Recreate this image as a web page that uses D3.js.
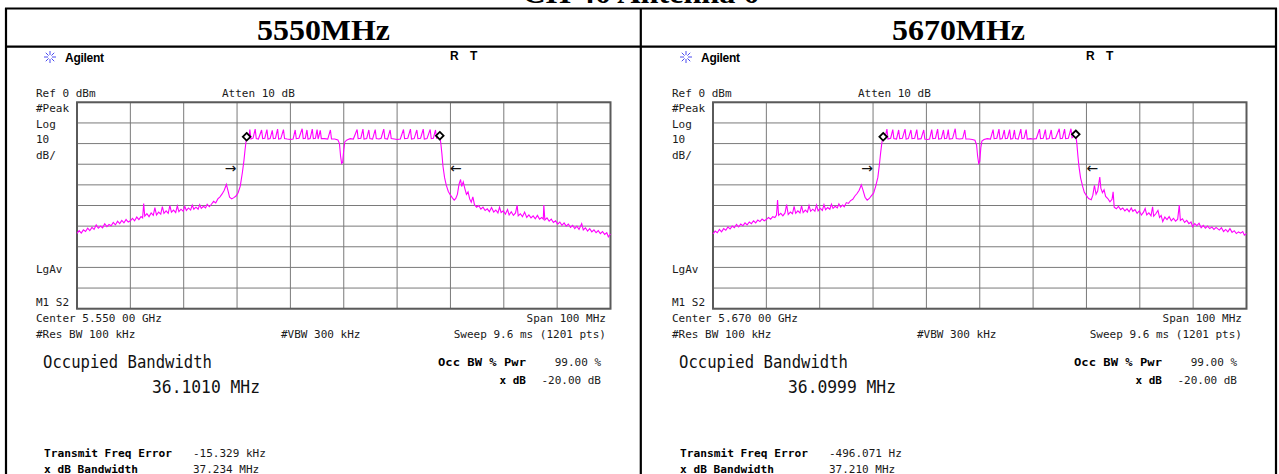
<!doctype html>
<html lang="en">
<head>
<meta charset="utf-8">
<title>Occupied Bandwidth</title>
<script src="https://d3js.org/d3.v7.min.js"></script>
<style>
  body { margin: 0; background: #fff; }
  .inst { font-family: "DejaVu Sans Mono", monospace; font-size: 11px; fill: #1a1a1a; }
  .instb { font-family: "DejaVu Sans Mono", monospace; font-size: 11px; font-weight: bold; fill: #000; }
  .big { font-family: "DejaVu Sans Mono", monospace; font-size: 18px; fill: #111; }
  .title { font-family: "Liberation Serif", serif; font-size: 30px; font-weight: bold; fill: #000; }
  .logo { font-family: "Liberation Sans", sans-serif; font-size: 12px; font-weight: bold; fill: #000; }
</style>
</head>
<body>
<script>
// channel titles
var titles = ["5550MHz", "5670MHz"];
var centers = ["Center 5.550 00 GHz", "Center 5.670 00 GHz"];
var occBw = ["36.1010 MHz", "36.0999 MHz"];
var freqErr = ["-15.329 kHz", "-496.071 Hz"];
var xdbBw = ["37.234 MHz", "37.210 MHz"];

// grid ticks: 0..100 MHz span, 0..-100 dBm (10 dB/div)
var freqTicks = [0, 10, 20, 30, 40, 50, 60, 70, 80, 90, 100];
var levelTicks = [0, -10, -20, -30, -40, -50, -60, -70, -80, -90, -100];

// trace [MHz offset in span, dBm]
var trace5550 = [
[0,-63.5],[0.4,-62.2],[0.8,-63.4],[1.2,-61.8],[1.6,-62.6],[2.0,-61.0],[2.4,-62.2],[2.8,-60.6],[3.2,-61.6],[3.6,-59.4],[4.0,-61.0],[4.4,-60.0],[4.8,-60.8],[5.2,-58.8],[5.6,-60.2],[6.0,-59.2],[6.4,-59.8],[6.8,-58.2],[7.2,-59.4],[7.6,-57.6],[8.0,-58.8],[8.4,-57.2],[8.8,-58.4],[9.2,-56.8],[9.6,-58.0],[10.0,-57.4],
[10.4,-56.2],[10.8,-57.4],[11.2,-55.6],[11.6,-56.8],[12.0,-55.4],[12.3,-56.0],[12.5,-49.0],[12.7,-55.2],[13.1,-54.0],[13.5,-55.4],[13.9,-53.6],[14.3,-54.8],[14.6,-51.0],[14.9,-54.6],[15.3,-53.2],[15.7,-54.2],[16.0,-50.6],[16.3,-53.8],[16.7,-52.6],[17.1,-53.8],[17.4,-50.0],[17.7,-53.2],[18.1,-52.2],[18.5,-53.4],[18.8,-50.2],[19.1,-53.0],[19.5,-51.8],[19.9,-52.8],[20.2,-50.4],
[20.5,-52.4],[20.9,-51.2],[21.3,-52.2],[21.6,-49.8],[21.9,-51.8],[22.3,-50.8],[22.7,-51.8],[23.0,-49.6],[23.3,-51.4],[23.7,-50.4],[24.1,-51.2],[24.4,-49.4],[24.8,-50.6],[25.2,-49.4],[25.6,-48.0],[26.0,-48.8],[26.4,-46.8],[26.8,-45.8],[27.2,-44.4],[27.6,-42.6],[28.0,-39.8],[28.3,-42.8],[28.6,-46.0],[29.0,-46.8],[29.4,-46.2],[29.8,-45.4],[30.2,-43.8],[30.6,-40.6],[31.0,-34.0],[31.3,-28.0],[31.5,-23.0],[31.7,-18.6],[31.9,-17.2],
[32.2,-17.6],[32.4,-13.2],[32.6,-17.8],[33.0,-17.4],[33.4,-13.0],[33.6,-17.6],[34.0,-17.8],[34.6,-13.4],[34.8,-17.6],[35.2,-17.4],[35.6,-13.2],[35.8,-17.8],[36.2,-17.6],[36.6,-13.6],[36.8,-17.6],[37.2,-17.4],[37.6,-13.0],[37.8,-17.8],[38.2,-17.6],[38.7,-13.2],[38.9,-17.6],[39.4,-17.8],[40.0,-18.0],[40.5,-17.8],[40.9,-13.4],[41.1,-17.6],[41.6,-17.4],[42.2,-12.8],[42.4,-17.6],[42.8,-17.4],[43.1,-13.4],[43.3,-17.8],[43.7,-17.6],[44.1,-13.0],[44.3,-17.6],[44.7,-17.4],[45.0,-13.2],[45.2,-17.8],[45.6,-13.6],[45.8,-17.6],[46.4,-17.6],[47.0,-17.8],[47.5,-13.4],[47.7,-17.8],[48.3,-17.8],[48.9,-18.2],
[49.2,-20.0],[49.4,-26.0],[49.6,-29.6],[49.8,-29.0],[50.0,-23.0],[50.2,-19.2],[50.6,-18.2],[51.2,-17.6],[51.8,-17.8],[52.5,-13.2],[52.7,-17.6],[53.2,-17.4],[53.6,-13.0],[53.8,-17.8],[54.3,-17.6],[54.7,-13.4],[54.9,-17.6],[55.4,-17.8],[55.9,-13.2],[56.1,-17.6],[56.6,-17.8],[57.0,-17.4],[57.5,-13.0],[57.7,-17.6],[58.2,-17.8],[58.7,-13.4],[58.9,-17.6],[59.5,-17.8],[60.0,-18.0],[60.6,-17.8],[61.2,-13.2],[61.4,-17.6],[62.0,-17.4],[62.5,-13.0],[62.7,-17.8],[63.2,-17.6],[63.7,-13.4],[63.9,-17.6],[64.4,-17.4],[64.9,-13.0],[65.1,-17.8],[65.6,-17.6],[66.2,-13.2],[66.4,-17.6],[66.8,-17.4],[67.2,-13.4],[67.4,-17.4],[67.8,-16.8],[68.0,-16.4],
[68.2,-20.0],[68.4,-25.0],[68.6,-31.0],[68.9,-36.5],[69.2,-40.0],[69.6,-43.2],[70.0,-45.0],[70.4,-46.4],[70.7,-47.4],[71.0,-46.6],[71.3,-44.6],[71.6,-39.8],[71.9,-37.4],[72.1,-40.8],[72.4,-38.6],[72.7,-41.8],[73.0,-44.6],[73.3,-43.4],[73.6,-46.8],[73.9,-48.4],[74.2,-45.8],[74.5,-49.6],[74.9,-50.8],[75.3,-50.0],[75.7,-51.8],[76.1,-50.8],[76.5,-52.4],[76.9,-51.6],[77.3,-53.0],[77.7,-51.0],[78.1,-53.2],[78.5,-52.2],[78.9,-53.6],[79.2,-50.8],[79.5,-53.4],[79.9,-52.6],
[80.3,-54.2],[80.7,-52.0],[81.0,-54.6],[81.4,-53.0],[81.8,-54.8],[82.2,-53.6],[82.5,-49.8],[82.7,-55.0],[83.1,-54.0],[83.5,-55.4],[83.9,-53.2],[84.3,-55.8],[84.7,-54.6],[85.1,-56.0],[85.5,-55.0],[85.9,-56.4],[86.3,-54.8],[86.7,-56.6],[87.1,-55.8],[87.4,-56.6],[87.5,-49.8],[87.7,-57.0],[88.1,-56.0],[88.5,-57.6],[88.9,-56.6],[89.3,-58.2],[89.7,-57.4],[90.1,-59.0],
[90.5,-58.0],[90.9,-59.6],[91.3,-58.4],[91.7,-60.0],[92.1,-59.0],[92.5,-60.6],[92.9,-59.6],[93.3,-61.2],[93.7,-60.0],[94.1,-61.6],[94.6,-58.8],[94.9,-61.8],[95.3,-60.8],[95.7,-62.4],[96.1,-61.2],[96.5,-62.8],[96.9,-61.8],[97.3,-63.2],[97.7,-62.2],[98.1,-63.6],[98.5,-62.6],[98.9,-64.0],[99.3,-63.2],[99.6,-65.2],[100,-63.8]
];

var trace5670 = [
[0,-63.8],[0.4,-62.4],[0.8,-63.2],[1.2,-61.6],[1.6,-62.8],[2.0,-61.2],[2.4,-62.0],[2.8,-60.4],[3.2,-61.4],[3.6,-60.0],[4.0,-60.8],[4.4,-59.2],[4.8,-60.4],[5.2,-59.0],[5.6,-59.8],[6.0,-58.4],[6.4,-59.4],[6.8,-58.0],[7.2,-58.8],[7.6,-57.4],[8.0,-58.4],[8.4,-57.0],[8.8,-57.8],[9.2,-56.6],[9.6,-57.4],[10.0,-56.8],
[10.4,-55.8],[10.8,-56.6],[11.2,-55.4],[11.6,-55.8],[11.9,-54.6],[12.1,-47.4],[12.3,-54.8],[12.7,-53.8],[13.1,-55.0],[13.5,-53.6],[13.8,-49.6],[14.1,-54.4],[14.5,-53.2],[14.9,-54.0],[15.2,-50.4],[15.5,-53.8],[15.9,-52.6],[16.3,-53.6],[16.6,-50.2],[16.9,-53.4],[17.3,-52.2],[17.7,-53.2],[18.0,-50.0],[18.3,-52.8],[18.7,-51.8],[19.1,-52.8],[19.4,-49.8],[19.7,-52.6],[20.1,-51.4],
[20.5,-52.4],[20.8,-49.6],[21.1,-52.0],[21.5,-51.0],[21.9,-51.8],[22.2,-49.4],[22.5,-51.4],[22.9,-50.4],[23.3,-51.2],[23.6,-49.2],[23.9,-50.8],[24.3,-49.8],[24.6,-50.6],[25.0,-48.6],[25.4,-49.0],[25.8,-47.6],[26.2,-47.0],[26.6,-45.4],[27.0,-44.2],[27.4,-42.6],[27.8,-40.0],[28.1,-42.4],[28.5,-46.0],[28.9,-47.4],[29.3,-46.6],[29.7,-45.2],[30.1,-44.0],[30.5,-40.6],[30.9,-36.4],[31.2,-30.0],[31.4,-25.0],[31.6,-20.6],[31.8,-17.2],
[32.2,-17.6],[32.6,-13.0],[32.8,-17.8],[33.3,-17.4],[33.7,-13.2],[33.9,-17.6],[34.4,-17.8],[34.8,-13.4],[35.0,-17.6],[35.5,-17.4],[36.0,-13.0],[36.2,-17.8],[36.6,-17.6],[37.1,-13.4],[37.3,-17.6],[37.8,-17.4],[38.2,-13.2],[38.4,-17.8],[39.0,-17.6],[39.5,-13.4],[39.7,-17.8],[40.2,-18.0],[40.6,-17.8],[41.0,-13.2],[41.2,-17.6],[41.7,-17.4],[42.1,-13.0],[42.3,-17.8],[42.8,-17.6],[43.2,-13.4],[43.4,-17.6],[43.8,-17.4],[44.1,-13.2],[44.3,-17.8],[44.9,-17.6],[45.4,-12.8],[45.6,-17.6],[46.2,-17.8],[46.8,-17.6],[47.2,-13.4],[47.4,-17.8],[48.0,-17.8],[48.6,-18.0],[49.1,-18.4],
[49.4,-20.6],[49.6,-26.0],[49.8,-29.6],[50.0,-28.6],[50.2,-22.0],[50.4,-18.8],[50.8,-18.0],[51.4,-17.6],[52.0,-17.8],[52.5,-13.2],[52.7,-17.6],[53.2,-17.4],[53.6,-13.0],[53.8,-17.8],[54.2,-17.6],[54.6,-13.4],[54.8,-17.6],[55.2,-17.4],[55.6,-13.2],[55.8,-17.8],[56.2,-17.6],[56.5,-13.4],[56.7,-17.6],[57.2,-17.8],[57.7,-13.0],[57.9,-17.6],[58.3,-17.4],[58.7,-13.2],[58.9,-17.8],[59.5,-17.6],[60.0,-17.8],[60.6,-17.6],[61.2,-13.0],[61.4,-17.6],[61.9,-17.4],[62.3,-13.2],[62.5,-17.8],[63.0,-17.6],[63.4,-13.4],[63.6,-17.6],[64.2,-17.4],[64.9,-12.8],[65.1,-17.6],[65.5,-17.4],[65.9,-13.0],[66.1,-17.6],[66.6,-17.4],[67.1,-12.8],[67.3,-17.2],[67.7,-16.4],[68.0,-15.6],
[68.2,-20.0],[68.4,-26.0],[68.6,-31.2],[68.9,-36.6],[69.3,-40.9],[69.6,-43.6],[70.0,-45.2],[70.4,-46.6],[70.9,-47.2],[71.2,-45.0],[71.5,-40.2],[71.8,-44.6],[72.1,-43.0],[72.5,-36.2],[72.7,-41.6],[73.0,-43.8],[73.3,-42.4],[73.6,-45.6],[74.0,-46.6],[74.4,-48.2],[74.8,-47.0],[75.0,-43.4],[75.2,-50.8],[75.6,-51.6],[76.0,-50.4],[76.4,-52.0],[76.8,-51.2],[77.2,-52.6],[77.6,-51.6],[78.0,-53.0],[78.4,-51.2],[78.7,-52.8],[79.1,-52.0],[79.5,-53.8],[79.9,-52.6],
[80.3,-54.6],[80.7,-53.2],[81.0,-51.4],[81.3,-54.6],[81.7,-53.6],[82.1,-55.0],[82.4,-50.6],[82.6,-55.2],[83.0,-54.0],[83.4,-52.4],[83.7,-55.8],[84.0,-54.8],[84.3,-57.8],[84.7,-55.6],[85.1,-56.8],[85.5,-55.4],[85.9,-57.4],[86.3,-56.2],[86.7,-57.6],[87.1,-56.6],[87.4,-49.8],[87.6,-57.2],[88.0,-56.4],[88.4,-58.2],[88.8,-57.2],[89.2,-58.8],[89.6,-58.0],[89.9,-60.3],
[90.3,-58.8],[90.7,-59.8],[91.1,-58.6],[91.5,-60.8],[91.9,-59.6],[92.3,-61.0],[92.7,-60.0],[93.1,-61.2],[93.5,-60.4],[93.9,-61.6],[94.3,-60.6],[94.9,-61.9],[95.3,-60.8],[95.7,-62.6],[96.1,-61.6],[96.5,-62.8],[96.9,-61.2],[97.3,-63.0],[97.7,-62.2],[98.1,-63.6],[98.5,-62.8],[98.9,-63.4],[99.3,-62.6],[99.6,-64.4],[100,-63.6]
];

// OBW markers (diamonds) and the -20 dB arrows
var markers5550 = [[31.8, -16.7], [68.0, -16.2]];
var markers5670 = [[31.9, -16.7], [68.0, -15.5]];
var arrows5550 = [[28.8, -32, "→"], [71.0, -32, "←"]];
var arrows5670 = [[28.9, -32, "→"], [71.1, -32, "←"]];

var svg = d3.select("body").append("svg").attr("width", 1279).attr("height", 474);
svg.append("rect").attr("width", 1279).attr("height", 474).attr("fill", "#fff");

// page title, only its foot shows above the table
svg.append("text").attr("class", "title").attr("x", 641).attr("y", 3)
  .attr("text-anchor", "middle").attr("textLength", 237).attr("lengthAdjust", "spacingAndGlyphs")
  .text("CH 40 Antenna 0");

// table borders
var border = svg.append("g").attr("stroke", "#000").attr("stroke-width", 2.2);
border.append("line").attr("x1", 5).attr("x2", 1277).attr("y1", 8.5).attr("y2", 8.5);
border.append("line").attr("x1", 5).attr("x2", 1277).attr("y1", 46.7).attr("y2", 46.7);
border.append("line").attr("x1", 6).attr("x2", 6).attr("y1", 8).attr("y2", 474);
border.append("line").attr("x1", 640.8).attr("x2", 640.8).attr("y1", 8).attr("y2", 474);
border.append("line").attr("x1", 1276).attr("x2", 1276).attr("y1", 8).attr("y2", 474);

function drawPanel(ox, i, trace, markers, arrows) {
  var g = svg.append("g").attr("transform", "translate(" + ox + ",0)");

  g.append("text").attr("class", "title").attr("x", i == 0 ? 323.5 : 322.5).attr("y", 39.5)
    .attr("text-anchor", "middle").attr("textLength", 133).attr("lengthAdjust", "spacingAndGlyphs")
    .text(titles[i]);

  // agilent logo
  var logo = g.append("g").attr("transform", "translate(50,57)").attr("stroke", "#4a4af0").attr("stroke-width", 1);
  d3.range(8).forEach(function(k) {
    var a = k * Math.PI / 4;
    logo.append("line").attr("x1", 2 * Math.cos(a)).attr("y1", 2 * Math.sin(a))
      .attr("x2", 6 * Math.cos(a)).attr("y2", 6 * Math.sin(a));
  });
  g.append("text").attr("class", "logo").attr("x", 65).attr("y", 62).attr("textLength", 39).text("Agilent");
  g.append("text").attr("class", "logo").attr("x", 450).attr("y", 60).text("R");
  g.append("text").attr("class", "logo").attr("x", 470).attr("y", 60).text("T");

  g.append("text").attr("class", "inst").attr("x", 36).attr("y", 96.5).text("Ref 0 dBm");
  g.append("text").attr("class", "inst").attr("x", 222).attr("y", 96.5).text("Atten 10 dB");
  var side = [["#Peak", 111.5], ["Log", 127.5], ["10", 143], ["dB/", 159], ["LgAv", 273], ["M1 S2", 305.5]];
  side.forEach(function(s) {
    g.append("text").attr("class", "inst").attr("x", 36).attr("y", s[1]).text(s[0]);
  });

  var x = d3.scaleLinear().domain([0, 100]).range([77, 610.5]);
  var y = d3.scaleLinear().domain([0, -100]).range([102.3, 308.7]);

  // graticule
  g.append("g").selectAll("line").data(freqTicks).join("line")
    .attr("x1", function(d) { return x(d); }).attr("x2", function(d) { return x(d); })
    .attr("y1", y(0)).attr("y2", y(-100))
    .attr("stroke", "#7a7a7a").attr("stroke-width", 1);
  g.append("g").selectAll("line").data(levelTicks).join("line")
    .attr("x1", x(0)).attr("x2", x(100))
    .attr("y1", function(d) { return y(d); }).attr("y2", function(d) { return y(d); })
    .attr("stroke", "#7a7a7a").attr("stroke-width", 1);
  g.append("rect").attr("x", x(0)).attr("y", y(0))
    .attr("width", x(100) - x(0)).attr("height", y(-100) - y(0))
    .attr("fill", "none").attr("stroke", "#5a5a5a").attr("stroke-width", 2);

  var line = d3.line().x(function(d) { return x(d[0]); }).y(function(d) { return y(d[1]); });
  g.append("path").datum(trace).attr("d", line)
    .attr("fill", "none").attr("stroke", "#ff00ff").attr("stroke-width", 1.1);

  g.selectAll(".mk").data(markers).join("path").attr("class", "mk")
    .attr("transform", function(d) { return "translate(" + x(d[0]) + "," + y(d[1]) + ")"; })
    .attr("d", "M0,-3.8L3.8,0L0,3.8L-3.8,0Z")
    .attr("fill", "#fff").attr("stroke", "#000").attr("stroke-width", 1.8);

  g.selectAll(".arr").data(arrows).join("text").attr("class", "arr")
    .attr("x", function(d) { return x(d[0]); }).attr("y", function(d) { return y(d[1]) + 4.5; })
    .attr("text-anchor", "middle").attr("font-family", "DejaVu Sans").attr("font-size", 14)
    .attr("fill", "#111").text(function(d) { return d[2]; });

  // settings text
  g.append("text").attr("class", "inst").attr("x", 36).attr("y", 321.5).text(centers[i]);
  g.append("text").attr("class", "inst").attr("x", 606).attr("y", 321.5).attr("text-anchor", "end").text("Span 100 MHz");
  g.append("text").attr("class", "inst").attr("x", 36).attr("y", 338).text("#Res BW 100 kHz");
  g.append("text").attr("class", "inst").attr("x", 281).attr("y", 338).text("#VBW 300 kHz");
  g.append("text").attr("class", "inst").attr("x", 606).attr("y", 338).attr("text-anchor", "end").text("Sweep 9.6 ms (1201 pts)");

  // measurement results
  g.append("text").attr("class", "big").attr("x", 43).attr("y", 368)
    .attr("textLength", 169).attr("lengthAdjust", "spacingAndGlyphs").text("Occupied Bandwidth");
  g.append("text").attr("class", "big").attr("x", 152).attr("y", 393)
    .attr("textLength", 108).attr("lengthAdjust", "spacingAndGlyphs").text(occBw[i]);

  g.append("text").attr("class", "instb").attr("x", 438).attr("y", 366)
    .attr("textLength", 88).attr("lengthAdjust", "spacingAndGlyphs").text("Occ BW % Pwr");
  g.append("text").attr("class", "inst").attr("x", 601).attr("y", 366).attr("text-anchor", "end").text("99.00 %");
  g.append("text").attr("class", "instb").attr("x", 526).attr("y", 384).attr("text-anchor", "end").text("x dB");
  g.append("text").attr("class", "inst").attr("x", 601).attr("y", 384).attr("text-anchor", "end").text("-20.00 dB");

  g.append("text").attr("class", "instb").attr("x", 44).attr("y", 456.5)
    .attr("textLength", 128).attr("lengthAdjust", "spacingAndGlyphs").text("Transmit Freq Error");
  g.append("text").attr("class", "inst").attr("x", 193).attr("y", 456.5).text(freqErr[i]);
  g.append("text").attr("class", "instb").attr("x", 44).attr("y", 472.5)
    .attr("textLength", 94).attr("lengthAdjust", "spacingAndGlyphs").text("x dB Bandwidth");
  g.append("text").attr("class", "inst").attr("x", 193).attr("y", 472.5).text(xdbBw[i]);
}

drawPanel(0, 0, trace5550, markers5550, arrows5550);
drawPanel(636, 1, trace5670, markers5670, arrows5670);
</script>
</body>
</html>
